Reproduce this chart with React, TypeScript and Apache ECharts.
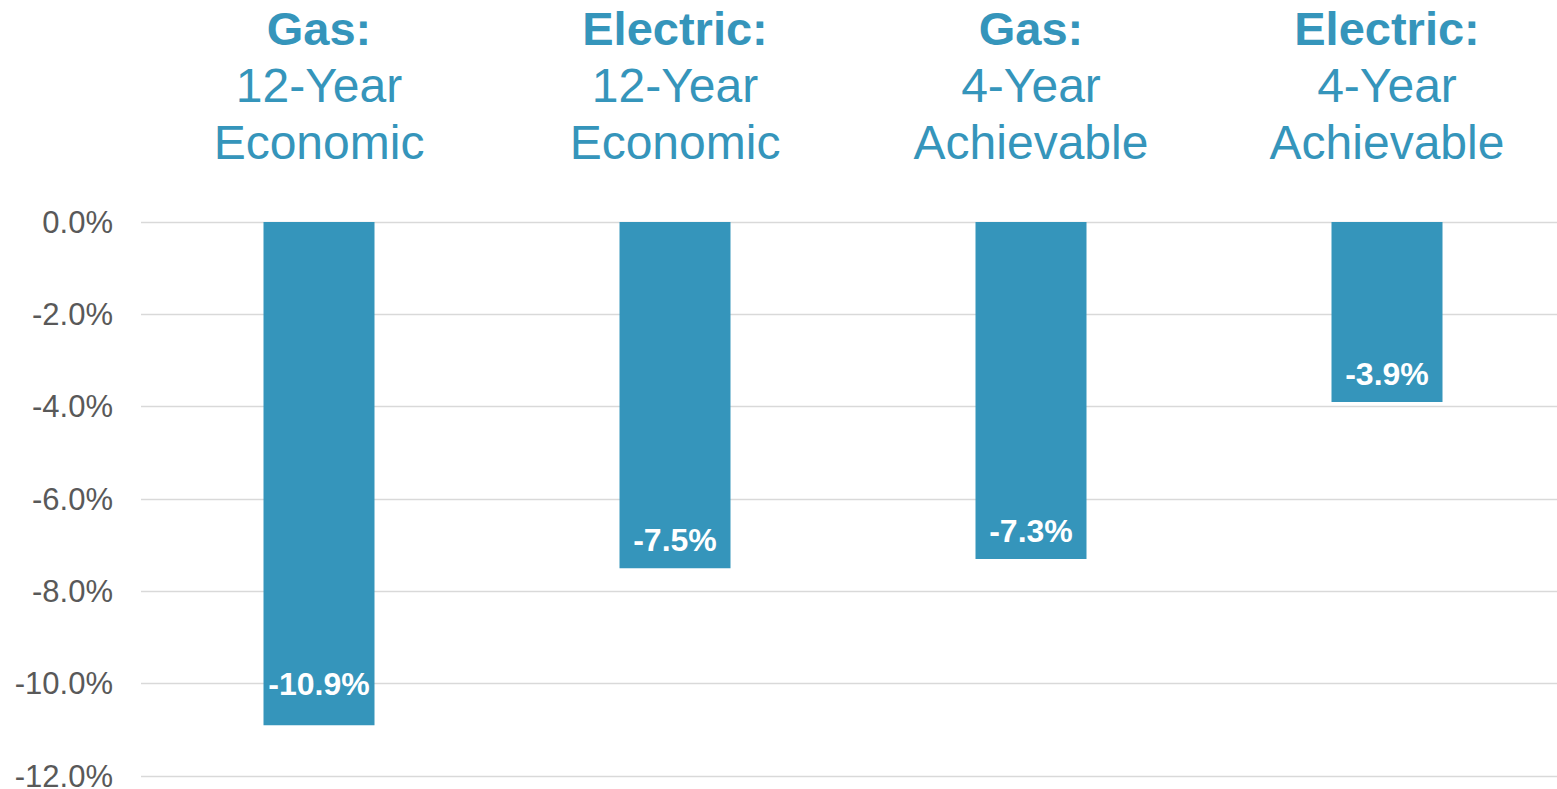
import React, { useEffect, useRef } from "react";
import * as echarts from "echarts";

const categoryTypes = ["Gas:", "Electric:", "Gas:", "Electric:"];
const categoryPeriods = ["12-Year", "12-Year", "4-Year", "4-Year"];
const categoryKinds = ["Economic", "Economic", "Achievable", "Achievable"];
const categories = categoryTypes.map((t, i) => `${t} ${categoryPeriods[i]} ${categoryKinds[i]}`);
const values = [-10.9, -7.5, -7.3, -3.9];
const yMin = -12;
const yMax = 0;
const yInterval = 2;

const BLUE = "#3595BB";
const FONT = "'Liberation Sans', Arial, sans-serif";

export default function App() {
  const ref = useRef<HTMLDivElement>(null);
  useEffect(() => {
    document.documentElement.style.overflow = "hidden";
    document.body.style.overflow = "hidden";
    if (!ref.current) return;
    const chart = echarts.init(ref.current, null, { renderer: "svg" });
    chart.setOption({
      animation: false,
      backgroundColor: "#ffffff",
      textStyle: { fontFamily: FONT },
      grid: {
        left: 141,
        top: 222,
        width: 1424,
        height: 554,
        containLabel: false,
        outerBoundsMode: "none",
      },
      xAxis: {
        type: "category",
        position: "top",
        data: categories,
        axisLine: { show: false },
        axisTick: { show: false },
        axisLabel: {
          interval: 0,
          margin: 51,
          color: BLUE,
          fontFamily: FONT,
          formatter: (_v: string, idx: number) =>
            `{b|${categoryTypes[idx]}}\n{n|${categoryPeriods[idx]}}\n{n|${categoryKinds[idx]}}`,
          rich: {
            b: { fontSize: 47, fontWeight: "bold", lineHeight: 57, color: BLUE, fontFamily: FONT },
            n: { fontSize: 48, lineHeight: 57, color: BLUE, fontFamily: FONT },
          },
        },
      },
      yAxis: {
        type: "value",
        min: yMin,
        max: yMax,
        interval: yInterval,
        axisLine: { show: false },
        axisTick: { show: false },
        splitLine: { lineStyle: { color: "#D9D9D9", width: 1.3 } },
        axisLabel: {
          margin: 28,
          color: "#595959",
          fontSize: 31,
          fontFamily: FONT,
          formatter: (v: number) => v.toFixed(1) + "%",
        },
      },
      series: [
        {
          type: "bar",
          barWidth: 111,
          data: values.map((v, i) => ({
            value: v,
            label: { distance: i === 0 ? 25 : 12 },
          })),
          itemStyle: { color: BLUE },
          label: {
            show: true,
            position: "insideBottom",
            color: "#ffffff",
            fontSize: 32,
            fontWeight: "bold",
            fontFamily: FONT,
            formatter: (p: any) => p.value.toFixed(1) + "%",
          },
        },
      ],
    });
    return () => chart.dispose();
  }, []);
  return (
    <div
      ref={ref}
      style={{
        position: "fixed",
        left: 0,
        top: 0,
        width: 1557,
        height: 789,
        overflow: "hidden",
        background: "#fff",
      }}
    />
  );
}
